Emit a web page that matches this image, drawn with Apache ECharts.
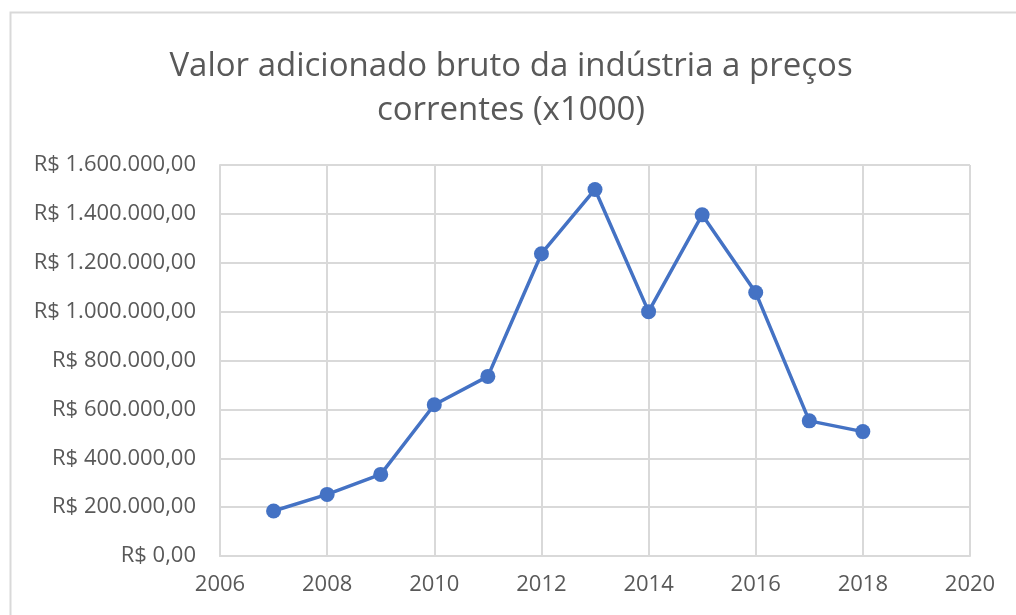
<!DOCTYPE html>
<html>
<head>
<meta charset="utf-8">
<script src="https://cdn.jsdelivr.net/npm/echarts@6/dist/echarts.min.js"></script>
<style>
html,body{margin:0;padding:0;background:#fff;}
#chart{width:1016px;height:615px;}
</style>
</head>
<body>
<div id="chart"></div>
<script>
const years = [2007, 2008, 2009, 2010, 2011, 2012, 2013, 2014, 2015, 2016, 2017, 2018];
const values = [184000, 252000, 334000, 619000, 735000, 1237000, 1500000, 1000000, 1396000, 1078000, 553000, 509000];
const titleText = 'Valor adicionado bruto da indústria a preços\ncorrentes (x1000)';

function fmtBRL(v) {
  const s = Math.round(v).toString().replace(/\B(?=(\d{3})+(?!\d))/g, '.');
  return 'R$ ' + s + ',00';
}

const chart = echarts.init(document.getElementById('chart'));
const font = 'Open Sans';
chart.setOption({
  animation: false,
  backgroundColor: '#fff',
  title: {
    text: titleText,
    left: 506,
    textAlign: 'center',
    top: 40,
    textStyle: {fontFamily: font, fontSize: 33, fontWeight: 'normal', color: '#595959', lineHeight: 44}
  },
  graphic: [{
    type: 'rect',
    shape: {x: 10.5, y: 12.5, width: 1020, height: 620},
    style: {fill: 'none', stroke: '#d9d9d9', lineWidth: 2},
    silent: true
  }],
  grid: {left: 220, right: 46, top: 165, bottom: 59, containLabel: false},
  xAxis: {
    type: 'value', min: 2006, max: 2020, interval: 2,
    axisLine: {show: true, lineStyle: {color: '#d9d9d9', width: 2}},
    axisTick: {show: false},
    splitLine: {show: true, lineStyle: {color: '#d9d9d9', width: 2}},
    axisLabel: {fontFamily: font, fontSize: 22, color: '#595959', margin: 18, formatter: v => String(v)}
  },
  yAxis: {
    type: 'value', min: 0, max: 1600000, interval: 200000,
    axisLine: {show: true, lineStyle: {color: '#d9d9d9', width: 2}},
    axisTick: {show: false},
    splitLine: {show: true, lineStyle: {color: '#d9d9d9', width: 2}},
    axisLabel: {fontFamily: font, fontSize: 22, color: '#595959', margin: 24, formatter: fmtBRL}
  },
  series: [{
    type: 'line',
    data: years.map((y, i) => [y, values[i]]),
    symbol: 'circle', symbolSize: 15,
    lineStyle: {color: '#4472C4', width: 3.5},
    itemStyle: {color: '#4472C4'}
  }]
});
</script>
</body>
</html>
